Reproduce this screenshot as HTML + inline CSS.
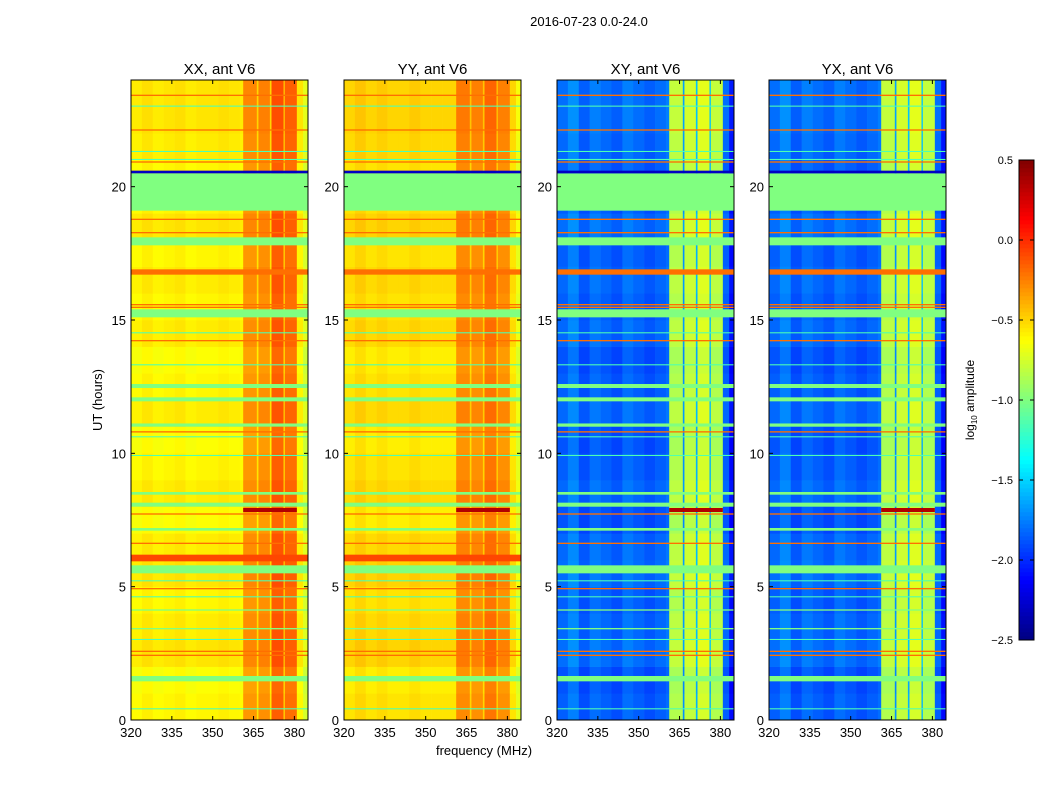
<!DOCTYPE html>
<html><head><meta charset="utf-8"><style>
body{margin:0;background:#fff;font-family:"Liberation Sans",sans-serif}
svg text{font-family:"Liberation Sans",sans-serif}
</style></head><body>
<svg id="c" width="1050" height="800" xmlns="http://www.w3.org/2000/svg"></svg>
<script>
const panelTitles=["XX, ant V6","YY, ant V6","XY, ant V6","YX, ant V6"];
const freqEdges=[320,324,328,332,336,340,344,348,352,356,360,361.2,366.2,366.8,371,371.6,376,376.5,380.9,383.2,385];
const freqXX=[-0.62,-0.58,-0.62,-0.6,-0.58,-0.62,-0.6,-0.6,-0.58,-0.6,-0.62,-0.32,-0.55,-0.3,-0.55,-0.15,-0.5,-0.2,-0.6,-0.75];
const freqYY=[-0.55,-0.5,-0.55,-0.52,-0.55,-0.55,-0.52,-0.55,-0.55,-0.55,-0.55,-0.28,-0.5,-0.3,-0.5,-0.22,-0.5,-0.3,-0.55,-0.7];
const freqXY=[-1.85,-1.75,-1.9,-1.8,-1.85,-1.9,-1.8,-1.85,-1.9,-1.85,-1.8,-0.85,-1.7,-0.8,-1.6,-0.75,-1.6,-0.85,-1.85,-2.1];
const freqYX=[-1.85,-1.75,-1.9,-1.8,-1.85,-1.9,-1.8,-1.85,-1.9,-1.85,-1.8,-0.85,-1.7,-0.8,-1.6,-0.75,-1.6,-0.85,-1.85,-2.1];
const hourOffset=[0.0,-0.03,0.05,0.03,0.0,0.05,0.03,-0.03,0.03,0.0,-0.03,0.03,0.0,-0.03,0.03,0.0,0.03,0.0,0.05,0.0,0.0,0.03,0.05,0.05];
const greenBands=[[19.1,20.5],[17.8,18.1],[15.1,15.4],[12.45,12.6],[11.95,12.1],[11.0,11.12],[8.45,8.55],[8.0,8.15],[7.1,7.2],[5.5,5.8],[1.45,1.65],[4.1,4.15],[3.4,3.45]];
const redLines=[[23.4,23.45],[22.1,22.15],[20.9,20.95],[18.75,18.8],[18.25,18.3],[16.7,16.9],[15.55,15.6],[15.45,15.5],[14.2,14.25],[10.78,10.83],[7.7,7.75],[6.6,6.65],[4.9,4.95],[2.55,2.6],[2.4,2.45]];
const thinLines=[[23.0,23.04],[21.3,21.34],[21.0,21.04],[14.5,14.54],[13.3,13.34],[10.6,10.64],[9.9,9.94],[5.2,5.24],[4.6,4.64],[3.0,3.04],[0.4,0.44]];
const blueLine=[20.5,20.6];
const redBand=[5.95,6.2];
const hotBand=[7.8,7.95];
const hotFreq=[361.2,380.9];
const xTicks=[320,335,350,365,380];
const yTicks=[0,5,10,15,20];
const cbTicks=[0.5,0.0,-0.5,-1.0,-1.5,-2.0,-2.5];

const svg=document.getElementById('c');
const NS='http://www.w3.org/2000/svg';
function mk(tag,at,parent){const e=document.createElementNS(NS,tag);for(const k in at)e.setAttribute(k,at[k]);(parent||svg).appendChild(e);return e;}
function jet(v){let x=(v+2.5)/3;x=Math.max(0,Math.min(1,x));const c=t=>Math.round(255*Math.max(0,Math.min(1,1.5-Math.abs(4*x-t))));return `rgb(${c(3)},${c(2)},${c(1)})`;}
const lefts=[131,344,557,769],W=177,topY=80,bot=720;
const fx=(p,f)=>lefts[p]+(f-320)/(385-320)*W;
const ty=t=>bot-(t/24)*(bot-topY);
const freqs=[freqXX,freqYY,freqXY,freqYX];

let t=mk('text',{x:589,y:26,'text-anchor':'middle','font-size':13});t.textContent='2016-07-23 0.0-24.0';


for(let p=0;p<4;p++){
 const g=mk('g',{});
 
 
 const fv=freqs[p];
 for(let h=0;h<24;h++){for(let i=0;i<fv.length;i++){
  const x0=fx(p,freqEdges[i]),x1=fx(p,freqEdges[i+1]);
  const r=mk('rect',{x:x0,y:ty(h+1),width:x1-x0+0.3,height:ty(h)-ty(h+1)+0.3,fill:jet(fv[i]+hourOffset[h])},g);
  
  
 }}
 const band=(b,v,x0,x1)=>{const r=mk('rect',{x:x0,y:ty(b[1]),width:x1-x0,height:Math.max(1,ty(b[0])-ty(b[1])),fill:jet(v)},g);};
 const L=lefts[p],R=lefts[p]+W;
 thinLines.forEach(b=>band(b,-1.15,L,R));
 if(p<2)band(redBand,-0.08,L,R);
 band(hotBand,0.35,fx(p,hotFreq[0]),fx(p,hotFreq[1]));
 greenBands.forEach(b=>band(b,-1.0,L,R));
 redLines.forEach(b=>band(b,-0.2,L,R));
 band(blueLine,-2.3,L,R);
 mk('rect',{x:L,y:topY,width:W,height:bot-topY,fill:'none',stroke:'#000','stroke-width':1},g);
 xTicks.forEach(v=>{const x=fx(p,v);mk('line',{x1:x,x2:x,y1:bot,y2:bot-4,stroke:'#000'},g);mk('line',{x1:x,x2:x,y1:topY,y2:topY+4,stroke:'#000'},g);
  const tx=mk('text',{x:x,y:bot+17,'text-anchor':'middle','font-size':13},g);tx.textContent=v;
  });
 yTicks.forEach(v=>{const y=ty(v);mk('line',{x1:L,x2:L+4,y1:y,y2:y,stroke:'#000'},g);mk('line',{x1:R,x2:R-4,y1:y,y2:y,stroke:'#000'},g);
  const tx=mk('text',{x:L-5,y:y+5,'text-anchor':'end','font-size':13},g);tx.textContent=v;
  });
 const pt=mk('text',{x:L+W/2,y:74,'text-anchor':'middle','font-size':15},g);pt.textContent=panelTitles[p];
 
}
t=mk('text',{x:484,y:755,'text-anchor':'middle','font-size':13});t.textContent='frequency (MHz)';

t=mk('text',{x:102,y:400,'text-anchor':'middle','font-size':13,transform:'rotate(-90 102 400)'});t.textContent='UT (hours)';


const cb=mk('g',{});


for(let i=0;i<120;i++){const v=-2.5+3*(i+0.5)/120;mk('rect',{x:1019,y:640-(i+1)*4,width:15,height:4.3,fill:jet(v)},cb);}
mk('rect',{x:1019,y:160,width:15,height:480,fill:'none',stroke:'#000'},cb);
cbTicks.forEach(v=>{const y=640-(v+2.5)/3*480;mk('line',{x1:1034,x2:1030,y1:y,y2:y,stroke:'#000'},cb);mk('line',{x1:1019,x2:1023,y1:y,y2:y,stroke:'#000'},cb);
 const tx=mk('text',{x:1013,y:y+4,'font-size':11,'text-anchor':'end'},cb);tx.textContent=v.toFixed(1).replace('-','\u2212');
 });
t=mk('text',{x:974,y:400,'text-anchor':'middle','font-size':12,transform:'rotate(-90 974 400)'});
t.innerHTML='log<tspan font-size="8" dy="3">10</tspan><tspan dy="-3"> amplitude</tspan>';

</script>
</body></html>
